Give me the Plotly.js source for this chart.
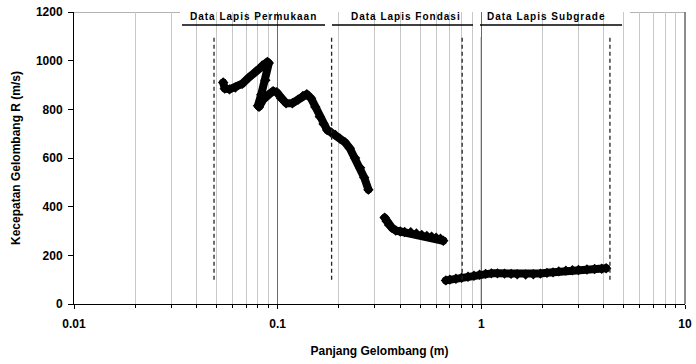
<!DOCTYPE html>
<html>
<head>
<meta charset="utf-8">
<script src="https://cdn.plot.ly/plotly-3.0.1.min.js"></script>
<style>
html,body{margin:0;padding:0;background:#fff;}
.annotation-text{letter-spacing:1px;}
.js-line{stroke-linejoin:round !important;stroke-linecap:round !important;}
</style>
</head>
<body>
<div id="chart" style="width:696px;height:364px;"></div>
<script>
// Layer 1: Permukaan (surface)
var surfX = [0.054, 0.055, 0.058, 0.062, 0.067, 0.072, 0.078, 0.084, 0.089, 0.0905, 0.087, 0.083, 0.080, 0.081, 0.085, 0.090, 0.095, 0.099, 0.104, 0.110, 0.118, 0.126, 0.133, 0.139, 0.146, 0.153, 0.161, 0.168, 0.175, 0.183, 0.192, 0.202, 0.214, 0.226, 0.240, 0.254, 0.266, 0.279];
var surfY = [910, 885, 882, 890, 905, 930, 955, 980, 995, 990, 920, 860, 815, 810, 840, 860, 875, 870, 845, 825, 825, 840, 855, 862, 845, 810, 770, 740, 715, 705, 695, 680, 665, 640, 600, 560, 520, 470];
// Layer 2: Fondasi
var baseX = [0.335, 0.343, 0.352, 0.365, 0.38, 0.40, 0.42, 0.45, 0.48, 0.51, 0.54, 0.57, 0.60, 0.63, 0.65];
var baseY = [355, 340, 325, 312, 302, 298, 296, 295, 290, 284, 280, 277, 272, 268, 260];
// Layer 3: Subgrade
var subX = [0.67, 0.70, 0.75, 0.80, 0.86, 0.92, 0.98, 1.05, 1.12, 1.2, 1.3, 1.4, 1.5, 1.65, 1.8, 1.95, 2.1, 2.25, 2.4, 2.6, 2.8, 3.0, 3.3, 3.6, 3.9, 4.1];
var subY = [97, 100, 104, 108, 112, 116, 120, 124, 126, 126, 125, 124, 122, 121, 122, 125, 128, 130, 134, 137, 139, 140, 142, 144, 145, 147];

var xTickVals = [0.01, 0.1, 1, 10];
var xTickText = ['0.01', '0.1', '1', '10'];
var layerLabels = ['Data Lapis Permukaan', 'Data Lapis Fondasi', 'Data Lapis Subgrade'];
var layerBounds = [0.0487, 0.184, 0.805, 4.28];

var minorVals = [];
[0.01, 0.1, 1].forEach(function (d) { for (var k = 2; k <= 9; k++) minorVals.push(+(k * d).toPrecision(3)); });

function px(v) { return (Math.log10(v) + 2) / 3; }   // data -> paper x
function pp(p) { return (p - 74) / 611; }            // pixel -> paper x

var FONT = 'Liberation Sans, Arial, sans-serif';
function series(x, y) {
  return {
    x: x, y: y, type: 'scatter', mode: 'lines+markers',
    line: {color: '#000', width: 8},
    marker: {symbol: 'diamond', size: 8, color: '#000'},
    hoverinfo: 'x+y', showlegend: false
  };
}
var data = [series(surfX, surfY), series(baseX, baseY), series(subX, subY)];

var shapes = [
  {type: 'line', xref: 'paper', yref: 'y', x0: 0, x1: 1, y0: 1200, y1: 1200, line: {color: '#9a9a9a', width: 1.5}, layer: 'below'},
  {type: 'line', xref: 'paper', yref: 'y', x0: px(1), x1: px(1), y0: -30, y1: 1100, line: {color: '#000', width: 1}, layer: 'between'},
  {type: 'rect', xref: 'paper', yref: 'paper', x0: pp(180), x1: pp(630), y0: 1097 / 1200, y1: 1.05, fillcolor: '#fff', line: {width: 0}, layer: 'between'},
  {type: 'line', xref: 'paper', yref: 'paper', x0: 1, x1: 1, y0: 0, y1: 1, line: {color: '#666', width: 1.5}, layer: 'above'}
];
layerBounds.forEach(function (b) {
  shapes.push({type: 'line', xref: 'paper', yref: 'y', x0: px(b), x1: px(b), y0: 100, y1: 1100,
    line: {color: '#222', width: 1.3, dash: '4px,3px'}, layer: 'above'});
});
var underlines = [[182, 325], [332, 473], [480, 622]];
underlines.forEach(function (u) {
  shapes.push({type: 'line', xref: 'paper', yref: 'y', x0: pp(u[0]), x1: pp(u[1]), y0: 1147, y1: 1147,
    line: {color: '#000', width: 1.5}, layer: 'above'});
});
var labelCenters = [253, 406, 546];
var annotations = layerLabels.map(function (t, i) {
  return {text: t, xref: 'paper', yref: 'paper', x: pp(labelCenters[i]), y: (304 - 16) / 292,
    xanchor: 'center', yanchor: 'middle', showarrow: false,
    font: {family: FONT, size: 10, color: '#000', weight: 700}};
});

var layout = {
  width: 696, height: 364,
  margin: {l: 74, r: 11, t: 12, b: 60},
  paper_bgcolor: '#fff', plot_bgcolor: '#fff',
  font: {family: FONT, size: 12, color: '#000', weight: 700},
  showlegend: false,
  xaxis: {
    type: 'log', range: [-2, 1],
    tickmode: 'array', tickvals: xTickVals, ticktext: xTickText,
    ticks: 'outside', ticklen: 4, tickcolor: '#000', ticklabelstandoff: 5,
    showgrid: true, gridcolor: '#6a6a6a', gridwidth: 1.2,
    showline: true, linecolor: '#000', linewidth: 1, zeroline: false,
    tickfont: {family: FONT, size: 12, color: '#000', weight: 700},
    minor: {tickmode: 'array', tickvals: minorVals, ticks: 'outside', ticklen: 3, tickcolor: '#000',
      showgrid: true, gridcolor: '#c8c8c8', gridwidth: 1},
    title: {text: 'Panjang Gelombang (m)', font: {family: FONT, size: 12, color: '#000', weight: 700}, standoff: 16}
  },
  yaxis: {
    range: [0, 1200], tick0: 0, dtick: 200,
    ticks: 'outside', ticklen: 5, tickcolor: '#000', ticklabelstandoff: 3,
    showgrid: false, showline: true, linecolor: '#000', linewidth: 1, zeroline: false,
    tickfont: {family: FONT, size: 12, color: '#000', weight: 700},
    title: {text: 'Kecepatan Gelombang R (m/s)', font: {family: FONT, size: 12, color: '#000', weight: 700}, standoff: 12}
  },
  shapes: shapes,
  annotations: annotations
};

Plotly.newPlot('chart', data, layout, {displayModeBar: false, staticPlot: true});
</script>
</body>
</html>
